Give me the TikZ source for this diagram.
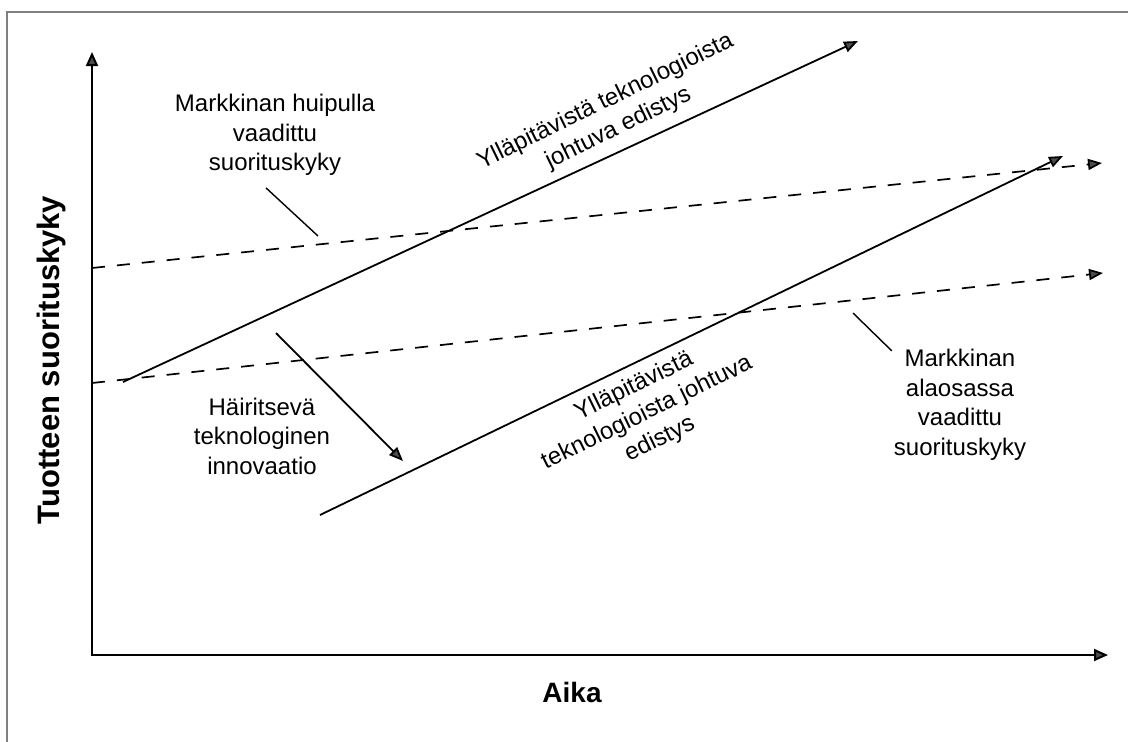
\documentclass[tikz,border=0pt]{standalone}
\usepackage{fontspec}
\setmainfont{Liberation Sans}
\usetikzlibrary{arrows.meta}
\begin{document}
\begin{tikzpicture}[x=1pt,y=-1pt,
  tiphead/.style={-{Triangle[length=14pt,width=11pt,fill=black!70]}},
  trend/.style={tiphead, line width=1.8pt},
  demand/.style={tiphead, line width=1.7pt, dash pattern=on 13pt off 12pt},
  axisline/.style={{Triangle[length=14pt,width=12pt,fill=black!70]}-{Triangle[length=14pt,width=12pt,fill=black!70]}, line width=2pt},
  leader/.style={line width=1.4pt},
  lbl/.style={font=\fontsize{24}{29.5}\selectfont, align=center, inner sep=0pt},
  axlbl/.style={font=\fontsize{#1}{32}\selectfont\bfseries, inner sep=0pt}]
% page and frame
\fill[white] (0,0) rectangle (1128,742);
\useasboundingbox (0,0) rectangle (1128,742);
\draw[black!50, line width=1.5pt] (7,742) -- (7,12) -- (1128,12);

% axes
\coordinate (ytop) at (92,52);
\coordinate (origin) at (92,655);
\coordinate (xend) at (1108,655);
\draw[axisline] (ytop) -- (origin) -- (xend);

% required performance (dashed)
\coordinate (hiA) at (92,268);
\coordinate (hiB) at (1102,163);
\coordinate (loA) at (92,383);
\coordinate (loB) at (1103,273);
\draw[demand] (hiA) -- (hiB);
\draw[demand] (loA) -- (loB);

% technology trajectories
\coordinate (s1A) at (123,382);
\coordinate (s1B) at (858,41);
\coordinate (s2A) at (320,515);
\coordinate (s2B) at (1063,156);
\draw[trend] (s1A) -- (s1B);
\draw[trend] (s2A) -- (s2B);

% disruptive jump
\coordinate (jumpA) at (276,333);
\coordinate (jumpB) at (403,461);
\draw[trend] (jumpA) -- (jumpB);

% labels
\node[lbl] (hiLbl) at (275,135) {Markkinan huipulla\\vaadittu\\suorituskyky};
\node[lbl] (disLbl) at (262,436) {Häiritsevä\\teknologinen\\innovaatio};
\node[lbl] (loLbl) at (960,405) {Markkinan\\alaosassa\\vaadittu\\suorituskyky};
\node[lbl, rotate=26] (s1Lbl) at (612,115) {Ylläpitävistä teknologioista\\johtuva edistys};
\node[lbl, rotate=26] (s2Lbl) at (647,413) {Ylläpitävistä\\teknologioista johtuva\\edistys};

% leader lines
\coordinate (hiPt) at (318,236);
\coordinate (loPt) at (853,313);
\draw[leader] ([xshift=-9pt,yshift=-12pt]hiLbl.south) -- (hiPt);
\draw[leader] (loPt) -- ([xshift=-2pt,yshift=-1.5pt]loLbl.north west);

% axis titles
\node[axlbl=31, rotate=90] (yTitle) at (51,360) {Tuotteen suorituskyky};
\node[axlbl=28] (xTitle) at (572,692) {Aika};
\end{tikzpicture}
\end{document}
